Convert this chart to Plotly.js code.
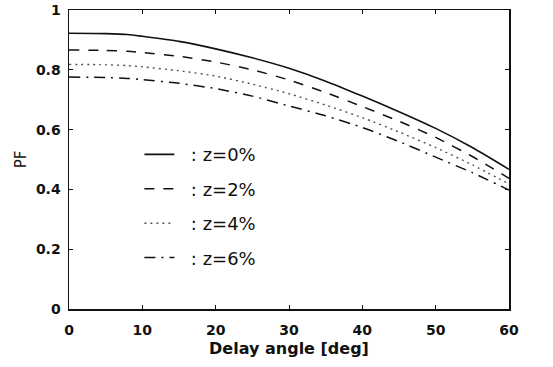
<!DOCTYPE html>
<html>
<head>
<meta charset="utf-8">
<script src="https://cdn.plot.ly/plotly-3.0.1.min.js"></script>
<style>html,body{margin:0;padding:0;background:#fff;}#chart{width:553px;height:367px;}</style>
</head>
<body>
<div id="chart"></div>
<script>
const delayAngle = [0, 5, 8, 10, 15, 20, 25, 30, 35, 40, 45, 50, 55, 60];
const pf0 = [0.922, 0.921, 0.918, 0.912, 0.895, 0.870, 0.840, 0.805, 0.762, 0.712, 0.660, 0.604, 0.540, 0.467];
const pf2 = [0.866, 0.865, 0.862, 0.858, 0.845, 0.826, 0.800, 0.766, 0.724, 0.677, 0.628, 0.574, 0.510, 0.437];
const pf4 = [0.818, 0.817, 0.814, 0.810, 0.797, 0.779, 0.752, 0.720, 0.682, 0.640, 0.592, 0.540, 0.482, 0.418];
const pf6 = [0.776, 0.774, 0.771, 0.767, 0.755, 0.737, 0.712, 0.679, 0.646, 0.607, 0.560, 0.508, 0.456, 0.398];
const seriesNames = ['\u00a0\u00a0: z=0%', '\u00a0\u00a0: z=2%', '\u00a0\u00a0: z=4%', '\u00a0\u00a0: z=6%'];
const xTicks = [0, 10, 20, 30, 40, 50, 60];
const yTicks = [0, 0.2, 0.4, 0.6, 0.8, 1];
const yTickText = ['0', '0.2', '0.4', '0.6', '0.8', '1'];

const allY = [pf0, pf2, pf4, pf6];
const styles = [
  {color: '#111', width: 1.6, dash: 'solid'},
  {color: '#111', width: 1.5, dash: '10px,9px'},
  {color: '#555', width: 1.4, dash: '2px,4px'},
  {color: '#111', width: 1.5, dash: '11px,6px,2px,6px'}
];
const traces = allY.map((y, i) => ({
  x: delayAngle, y: y, type: 'scatter', mode: 'lines',
  name: seriesNames[i], legendgroup: 'g' + i,
  line: Object.assign({shape: 'spline', smoothing: 0.6}, styles[i])
}));

const tickFont = {family: 'DejaVu Sans, sans-serif', size: 14, color: '#111', weight: 'bold'};
const layout = {
  width: 553, height: 367,
  margin: {l: 69, r: 44, t: 10, b: 58},
  paper_bgcolor: '#fff', plot_bgcolor: '#fff',
  showlegend: true,
  legend: {
    x: 0.16, y: 0.578, xanchor: 'left', yanchor: 'top',
    bgcolor: 'rgba(0,0,0,0)', borderwidth: 0,
    font: {family: 'DejaVu Sans, sans-serif', size: 18, color: '#111'},
    traceorder: 'grouped', tracegroupgap: 8, itemwidth: 30
  },
  xaxis: {
    range: [0, 60], tickvals: xTicks, ticktext: xTicks.map(String),
    ticks: 'inside', ticklen: 4, tickwidth: 1, tickcolor: '#111',
    showline: true, linecolor: '#111', linewidth: 1.5, mirror: 'ticks',
    showgrid: false, zeroline: false, tickfont: tickFont, ticklabelstandoff: 8,
    title: {text: 'Delay angle [deg]', font: {family: 'DejaVu Sans, sans-serif', size: 16, color: '#111', weight: 'bold'}, standoff: 5}
  },
  yaxis: {
    range: [0, 1], tickvals: yTicks, ticktext: yTickText,
    ticks: 'inside', ticklen: 4, tickwidth: 1, tickcolor: '#111',
    showline: true, linecolor: '#111', linewidth: 1.5, mirror: 'ticks',
    showgrid: false, zeroline: false, tickfont: tickFont, ticklabelstandoff: 4,
    title: {text: 'PF', font: {family: 'DejaVu Sans, sans-serif', size: 15, color: '#111'}, standoff: 5}
  }
};
Plotly.newPlot('chart', traces, layout, {displayModeBar: false, staticPlot: true});
</script>
</body>
</html>
